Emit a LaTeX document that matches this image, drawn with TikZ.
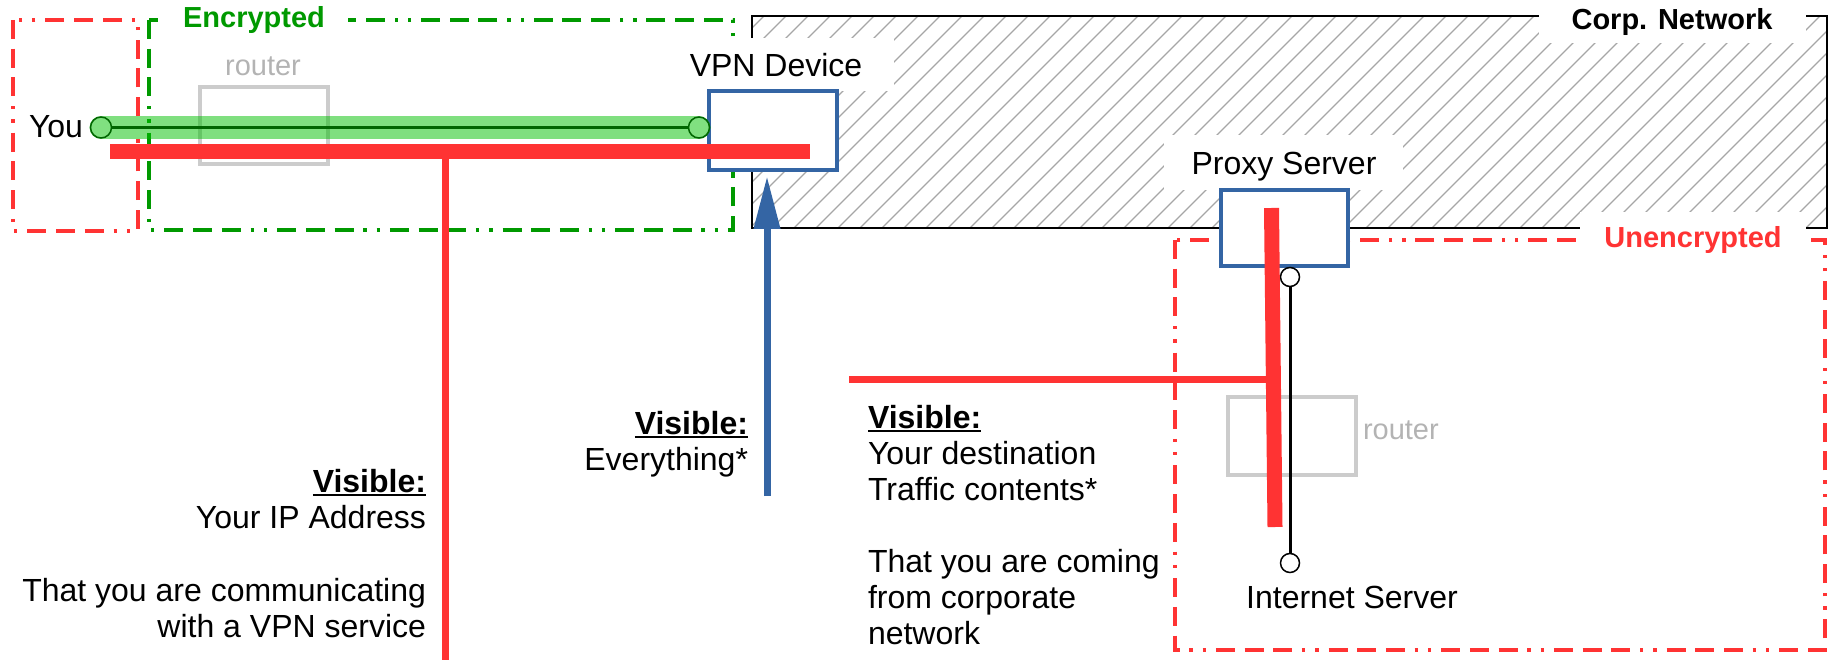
\documentclass[tikz,border=0pt]{standalone}
\usepackage{fontspec}
\setmainfont{Liberation Sans}
\usetikzlibrary{arrows.meta}
\definecolor{vred}{HTML}{FF3333}
\definecolor{vgreen}{HTML}{009900}
\definecolor{vblue}{HTML}{3465A4}
\definecolor{vgray}{HTML}{CCCCCC}
\definecolor{vgraytext}{HTML}{B3B3B3}
\definecolor{tunnelc}{RGB}{0,192,0}
\definecolor{tunnelfill}{RGB}{128,224,128}
\definecolor{darkgreen}{HTML}{006600}
\definecolor{hatchgray}{HTML}{A6A6A6}
\newcommand\ulword[1]{\setbox0\hbox{#1}\rlap{\rule[-4pt]{\wd0}{2.2pt}}\box0}
\begin{document}
\begin{tikzpicture}[x=1pt,y=-1pt,
  every node/.style={inner sep=0pt, outer sep=0pt},
  txt/.style={font=\fontsize{32pt}{36pt}\selectfont},
  lbl/.style={font=\fontsize{29pt}{34pt}\selectfont\bfseries},
  rtr/.style={font=\fontsize{29pt}{34pt}\selectfont, text=vgraytext},
  zone/.style={line width=4pt, dash pattern=on 19pt off 9.7pt on 19pt off 9.7pt on 19pt off 9.7pt on 3.3pt off 10pt on 3.3pt off 10pt},
  devbox/.style={draw=vblue, line width=3.5pt, fill=white},
  rtrbox/.style={draw=vgray, line width=3.5pt},
  hatch/.style={draw=hatchgray, line width=1.2pt},
  pad/.style={fill=white, draw=none},
  tunneldot/.style={circle, draw=darkgreen, line width=1.5pt, fill=tunnelfill, minimum size=21pt},
  srvdot/.style={circle, draw=black, line width=1.5pt, fill=white, minimum size=19pt},
]
\useasboundingbox (0,0) rectangle (1839,660);

% corporate network hatched area
\begin{scope}
  \clip (752,16) rectangle (1827,228);
  \foreach \i in {0,...,62} \draw[hatch] ({530+\i*22},228) -- ++(212,-212);
\end{scope}
\draw[black, line width=1.5pt] (752,16) rectangle (1827,228);

% zones
\draw[zone, vgreen] (149,20) rectangle (733,230);
\draw[zone, vred] (13,20) rectangle (138,231);
\draw[zone, vred] (1175,240) rectangle (1825,650);

% white pads behind labels
\fill[pad] (700,38) rectangle (894,91);
\fill[pad] (1164,135) rectangle (1403,190);
\fill[pad] (1539,0) rectangle (1806,43);
\fill[pad] (1580,212) rectangle (1806,262);
\fill[pad] (158,0) rectangle (348,38);

% labels
\node[lbl, text=vgreen, anchor=base] (enc) at (254,28) {Encrypted};
\node[lbl, anchor=base] (corp) at (1672,30) {Corp. Network};
\node[lbl, text=vred, anchor=base] (unenc) at (1693,248) {Unencrypted};
\node[txt, anchor=base east] (youlbl) at (83,138) {You};
\node[txt, anchor=base] (vpnlbl) at (776,77) {VPN Device};
\node[txt, anchor=base] (proxylbl) at (1284,175) {Proxy Server};
\node[txt, anchor=base] (inetlbl) at (1352,608) {Internet Server};
\node[rtr, anchor=base] (r1lbl) at (263,76) {router};
\node[rtr, anchor=base west] (r2lbl) at (1363,439) {router};

% routers
\node[rtrbox, minimum width=128pt, minimum height=77pt] (r1) at (264,125.5) {};
\node[rtrbox, minimum width=128pt, minimum height=78pt] (r2) at (1292,436) {};

% devices
\node[devbox, minimum width=128pt, minimum height=79pt] (vpn) at (773,130.5) {};
\node[devbox, minimum width=127pt, minimum height=76pt] (proxy) at (1284.5,228) {};

% encrypted tunnel
\coordinate (tA) at (101,127.5);
\coordinate (tB) at (699,127.5);
\draw[tunnelc, opacity=.5, line width=23pt, line cap=round] (tA) -- (tB);
\draw[darkgreen, line width=3.5pt] (tA) -- (tB);
\node[tunneldot] (you) at (tA) {};
\node[tunneldot] (vpnend) at (tB) {};

% internet connection
\node[srvdot] (pxend) at (1290,277) {};
\node[srvdot] (inet) at (1290,563) {};
\draw[black, line width=3pt] (pxend) -- (inet);

% visibility lines (red)
\coordinate (rA) at (110,152);
\coordinate (rB) at (810,152);
\coordinate (rT) at (445,152);
\coordinate (rBot) at (445,660);
\draw[vred, line width=15pt] (rA) -- (rB);
\draw[vred, line width=7pt] (rT) -- (rBot);
\coordinate (pT) at (1271.5,208);
\coordinate (pB) at (1275,527);
\coordinate (pM) at (1271.5,379.5);
\coordinate (pL) at (849,379.5);
\draw[vred, line width=7pt] (pL) -- (pM);
\draw[vred, line width=15pt] (pT) -- (pB);

% VPN device visibility arrow
\coordinate (aS) at (767,496);
\coordinate (aE) at (767,176);
\draw[vblue, line width=7pt, -{Triangle[length=53pt,width=25pt]}] (aS) -- (aE);

% text block 1
\node[txt, anchor=base east] (b1a) at (426,492) {\ulword{\bfseries Visible:}};
\node[txt, anchor=base east] (b1b) at (426,528.3) {Your IP Address};
\node[txt, anchor=base east] (b1c) at (426,601) {That you are communicating};
\node[txt, anchor=base east] (b1d) at (426,637.3) {with a VPN service};

% text block 2
\node[txt, anchor=base east] (b2a) at (748,434) {\ulword{\bfseries Visible:}};
\node[txt, anchor=base east] (b2b) at (748,470) {Everything*};

% text block 3
\node[txt, anchor=base west] (b3a) at (868,428) {\ulword{\bfseries Visible:}};
\node[txt, anchor=base west] (b3b) at (868,464) {Your destination};
\node[txt, anchor=base west] (b3c) at (868,500) {Traffic contents*};
\node[txt, anchor=base west] (b3d) at (868,572) {That you are coming};
\node[txt, anchor=base west] (b3e) at (868,608) {from corporate};
\node[txt, anchor=base west] (b3f) at (868,644) {network};
\end{tikzpicture}
\end{document}
